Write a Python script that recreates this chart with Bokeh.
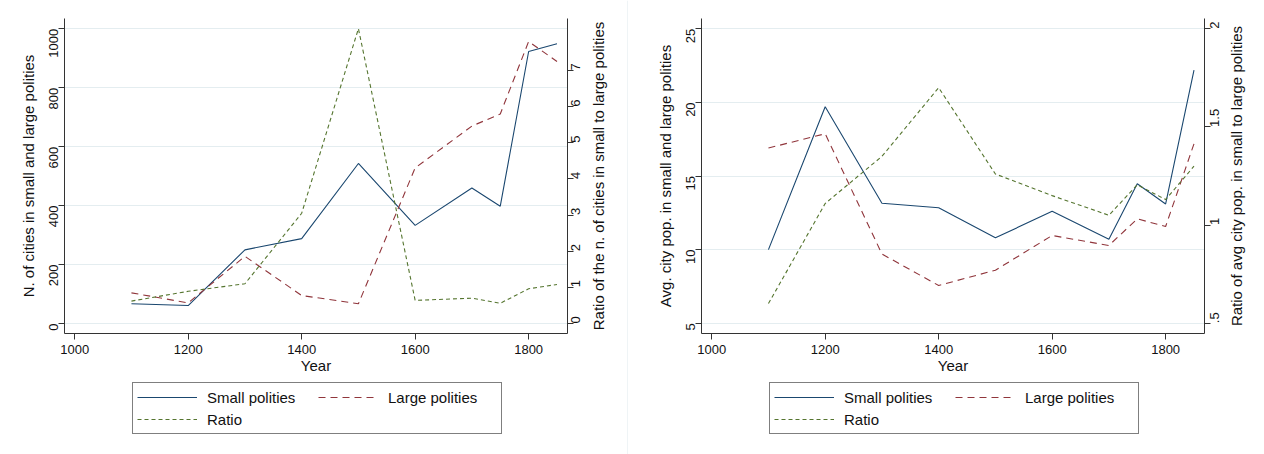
import math
from bokeh.plotting import figure
from bokeh.models import Range1d, LinearAxis, FixedTicker, Legend, LegendItem, Label, Span
from bokeh.layouts import row, column
from bokeh.embed import file_html
from bokeh.resources import INLINE

years = [1100, 1200, 1300, 1400, 1500, 1600, 1700, 1750, 1800, 1850]

n_small = [67, 61, 250, 288, 543, 333, 460, 398, 923, 949]
n_large = [104, 70, 228, 95, 67, 528, 670, 711, 957, 889]
n_ratio = [0.62, 0.89, 1.10, 3.05, 8.16, 0.64, 0.70, 0.56, 0.96, 1.08]

pop_small = [10.0, 19.7, 13.15, 12.84, 10.8, 12.6, 10.7, 14.47, 13.1, 22.2]
pop_large = [16.9, 17.87, 9.7, 7.56, 8.6, 10.96, 10.28, 12.09, 11.57, 17.19]
pop_ratio = [0.60, 1.11, 1.35, 1.70, 1.26, 1.15, 1.05, 1.205, 1.13, 1.30]

x_ticks = [1000, 1200, 1400, 1600, 1800]
left1_ticks = [0, 200, 400, 600, 800, 1000]
right1_ticks = [0, 1, 2, 3, 4, 5, 6, 7]
left2_ticks = [5, 10, 15, 20, 25]
right2_ticks = [0.5, 1, 1.5, 2]
right2_labels = {0.5: ".5", 1: "1", 1.5: "1.5", 2: "2"}

labels = ["Small polities", "Large polities", "Ratio"]
colors = ["#1a476f", "#90353b", "#55752f"]
dashes = ["solid", "7 5", "4 3"]

FONT = "Liberation Sans"
TXT = "#111111"

FRAME_W, FRAME_H, TOP = 503, 315, 18
MAIN_H, LEG_H, FULL_H = 378, 76, 454
NAN = float("nan")


def style_axis(ax, ticks, label, overrides=None):
    ax.ticker = FixedTicker(ticks=ticks)
    if overrides:
        ax.major_label_overrides = overrides
    ax.axis_label = label
    ax.axis_label_text_font = FONT
    ax.axis_label_text_font_style = "normal"
    ax.axis_label_text_font_size = "15px"
    ax.axis_label_text_color = TXT
    ax.major_label_text_font = FONT
    ax.major_label_text_font_size = "13px"
    ax.major_label_text_color = TXT
    ax.axis_line_color = "#333333"
    ax.major_tick_line_color = "#333333"
    ax.major_tick_in = 0
    ax.major_tick_out = 6
    ax.major_label_standoff = 5
    ax.axis_label_standoff = 5
    ax.minor_tick_line_color = None


def make_main(width, border_left, ys, yl_range, yr_range, yl_ticks, yr_ticks,
              yl_label, yr_overrides, r_standoff):
    p = figure(width=width, height=MAIN_H, output_backend="svg", toolbar_location=None,
               x_range=Range1d(982, 1868.5), y_range=Range1d(*yl_range),
               min_border_left=border_left, min_border_right=width - border_left - FRAME_W,
               min_border_top=TOP, min_border_bottom=MAIN_H - TOP - FRAME_H)
    p.outline_line_color = None
    p.background_fill_color = "white"
    p.border_fill_color = "white"
    p.extra_y_ranges = {"ratio": Range1d(*yr_range)}

    style_axis(p.xaxis[0], x_ticks, "Year")
    p.xaxis[0].axis_label_standoff = 0
    style_axis(p.yaxis[0], yl_ticks, yl_label)
    p.yaxis[0].major_label_orientation = math.pi / 2

    rax = LinearAxis(y_range_name="ratio")
    style_axis(rax, yr_ticks, "", yr_overrides)
    rax.major_label_orientation = math.pi / 2
    rax.major_label_standoff = r_standoff
    p.add_layout(rax, "right")

    p.xgrid.grid_line_color = None
    p.ygrid.grid_line_color = "#e4edf0"
    p.ygrid.grid_line_width = 1

    for i, vals in enumerate(ys):
        kw = {"y_range_name": "ratio"} if i == 2 else {}
        p.line(years, vals, line_color=colors[i], line_width=1.1,
               line_dash=dashes[i], **kw)
    return p


def make_legend_fig(width, border_left, x_left):
    q = figure(width=width, height=LEG_H, output_backend="svg", toolbar_location=None,
               x_range=Range1d(0, 1), y_range=Range1d(0, 1),
               x_axis_type=None, y_axis_type=None,
               min_border_left=border_left, min_border_right=width - border_left - FRAME_W,
               min_border_top=0, min_border_bottom=0)
    q.outline_line_color = None
    q.background_fill_color = "white"
    q.border_fill_color = "white"
    # legend carriers: a single undefined point each, nothing is drawn in the frame
    rends = [q.line(x=[NAN], y=[NAN], line_color=c, line_width=1.1, line_dash=d)
             for c, d in zip(colors, dashes)]
    legend = Legend(items=[LegendItem(label=n, renderers=[r]) for n, r in zip(labels, rends)],
                    orientation="horizontal", ncols=2, location=(x_left, 20))
    legend.label_text_font = FONT
    legend.label_text_font_size = "15px"
    legend.label_text_color = TXT
    legend.glyph_width = 60
    legend.glyph_height = 20
    legend.label_height = 20
    legend.label_width = 109
    legend.label_standoff = 10
    legend.spacing = 2
    legend.padding = 4
    legend.margin = 0
    legend.border_line_color = "black"
    legend.border_line_width = 1
    legend.background_fill_color = "white"
    legend.background_fill_alpha = 1
    q.add_layout(legend, "center")
    return q


def make_title_fig(width, text, base_x, separator):
    t = figure(width=width, height=FULL_H, output_backend="svg", toolbar_location=None,
               x_range=Range1d(0, width), y_range=Range1d(FULL_H, 0),
               x_axis_type=None, y_axis_type=None, min_border=0)
    t.outline_line_color = None
    t.background_fill_color = "white"
    t.border_fill_color = "white"
    t.add_layout(Label(x=base_x, y=TOP + FRAME_H / 2, text=text, angle=math.pi / 2,
                       text_align="center", text_baseline="alphabetic",
                       text_font=FONT, text_font_size="15px", text_color=TXT))
    if separator:
        t.add_layout(Span(location=width - 0.5, dimension="height",
                          line_color="#dfe8ec", line_width=1))
    return t


p1 = make_main(591, 64, [n_small, n_large, n_ratio], (-33.9, 1035), (-0.277, 8.44),
               left1_ticks, right1_ticks, "N. of cities in small and large polities", None, 2)
l1 = make_legend_fig(591, 64, 68)
t1 = make_title_fig(37, "Ratio of the n. of cities in small to large polities", 7, True)

p2 = make_main(601, 73, [pop_small, pop_large, pop_ratio], (4.30, 25.7), (0.4475, 2.0525),
               left2_ticks, right2_ticks, "Avg. city pop. in small and large polities",
               right2_labels, 4)
l2 = make_legend_fig(601, 73, 68)
t2 = make_title_fig(35, "Ratio of avg city pop. in small to large polities", 7, False)

layout = row(column(p1, l1), t1, column(p2, l2), t2)
open("out.html", "w").write(file_html(layout, INLINE))
